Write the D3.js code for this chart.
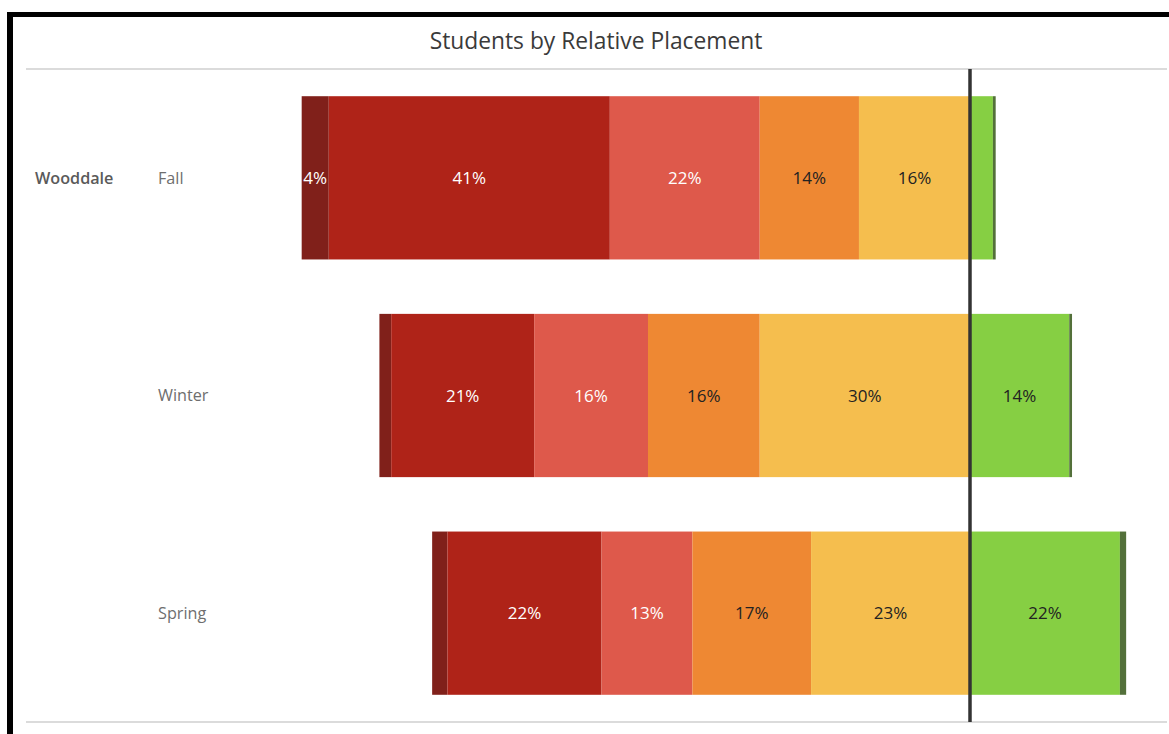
<!DOCTYPE html>
<html>
<head>
<meta charset="utf-8">
<script src="https://cdn.jsdelivr.net/npm/d3@7"></script>
<style>
  html, body { margin: 0; padding: 0; background: #fff; }
  svg { display: block; }
</style>
</head>
<body>
<svg id="chart" width="1169" height="734"></svg>
<script>
// ---- Data ----
const title = "Students by Relative Placement";
const school = "Wooddale";
const seasons = ["Fall", "Winter", "Spring"];
// placement levels, from furthest below to furthest above
const levels = ["Far Below", "Well Below", "Below", "Slightly Below", "Near", "Above", "Well Above"];
const negativeLevels = ["Far Below", "Well Below", "Below", "Slightly Below", "Near"];
const levelColors = ["#80201a", "#af2318", "#de594b", "#ee8833", "#f5be4e", "#86cf43", "#53703a"];
const labelColors = ["#ffffff", "#ffffff", "#ffffff", "#222222", "#222222", "#222222", "#222222"];
// percent of students per level, per season
const fallValues   = [3.9, 40.5, 21.6, 14.3, 16.0, 3.3, 0.4];
const winterValues = [1.7, 20.6, 16.4, 16.1, 30.3, 14.3, 0.4];
const springValues = [2.2, 22.2, 13.1, 17.1, 22.9, 21.6, 0.9];
const seasonValues = [fallValues, winterValues, springValues];

// ---- Layout ----
const svg = d3.select("#chart");
const W = 1169, H = 734;

const x = d3.scaleLinear().domain([-60, 20]).range([553.6, 1108.8]);
const y = d3.scaleBand().domain(seasons).range([69, 722]).paddingInner(0.25).paddingOuter(0.125);

// frame (black border at top and left)
svg.append("rect").attr("x", 7).attr("y", 12).attr("width", W - 7).attr("height", 5).attr("fill", "#000");
svg.append("rect").attr("x", 7).attr("y", 12).attr("width", 6).attr("height", H - 12).attr("fill", "#000");

// title
svg.append("text")
  .attr("x", 596).attr("y", 49)
  .attr("text-anchor", "middle")
  .attr("font-family", "'Open Sans', sans-serif")
  .attr("font-size", 22.8)
  .attr("fill", "#3a3a3a")
  .text(title);

// horizontal rules
[69, 722].forEach(v => {
  svg.append("line")
    .attr("x1", 26).attr("x2", 1167)
    .attr("y1", v).attr("y2", v)
    .attr("stroke", "#cfcfcf").attr("stroke-width", 1.5);
});

// build segments
const segments = [];
seasons.forEach((s, si) => {
  const vals = seasonValues[si];
  const negTotal = d3.sum(vals.filter((v, i) => negativeLevels.includes(levels[i])));
  let cur = -negTotal;
  vals.forEach((v, i) => {
    segments.push({ season: s, level: levels[i], li: i, x0: cur, x1: cur + v, value: v });
    cur += v;
  });
});

const g = svg.append("g");
g.selectAll("rect.seg")
  .data(segments)
  .join("rect")
  .attr("class", "seg")
  .attr("x", d => x(d.x0))
  .attr("y", d => y(d.season))
  .attr("width", d => x(d.x1) - x(d.x0))
  .attr("height", y.bandwidth())
  .attr("fill", d => levelColors[d.li]);

g.selectAll("text.lbl")
  .data(segments.filter(d => d.value >= 3.5))
  .join("text")
  .attr("class", "lbl")
  .attr("x", d => (x(d.x0) + x(d.x1)) / 2)
  .attr("y", d => y(d.season) + y.bandwidth() / 2)
  .attr("dy", "0.36em")
  .attr("text-anchor", "middle")
  .attr("font-family", "'Open Sans', sans-serif")
  .attr("font-size", 17)
  .attr("fill", d => labelColors[d.li])
  .text(d => Math.round(d.value) + "%");

// zero line
svg.append("line")
  .attr("x1", x(0)).attr("x2", x(0))
  .attr("y1", 69).attr("y2", 722)
  .attr("stroke", "#333333").attr("stroke-width", 3.5);

// row headers
svg.append("text")
  .attr("x", 35).attr("y", y(seasons[0]) + y.bandwidth() / 2)
  .attr("dy", "0.36em")
  .attr("font-family", "'Open Sans', sans-serif")
  .attr("font-size", 16.2)
  .attr("font-weight", 600)
  .attr("fill", "#5a5a5a")
  .text(school);

svg.selectAll("text.season")
  .data(seasons)
  .join("text")
  .attr("class", "season")
  .attr("x", 158)
  .attr("y", d => y(d) + y.bandwidth() / 2)
  .attr("dy", "0.36em")
  .attr("font-family", "'Open Sans', sans-serif")
  .attr("font-size", 16.2)
  .attr("fill", "#6e6e6e")
  .text(d => d);
</script>
</body>
</html>
